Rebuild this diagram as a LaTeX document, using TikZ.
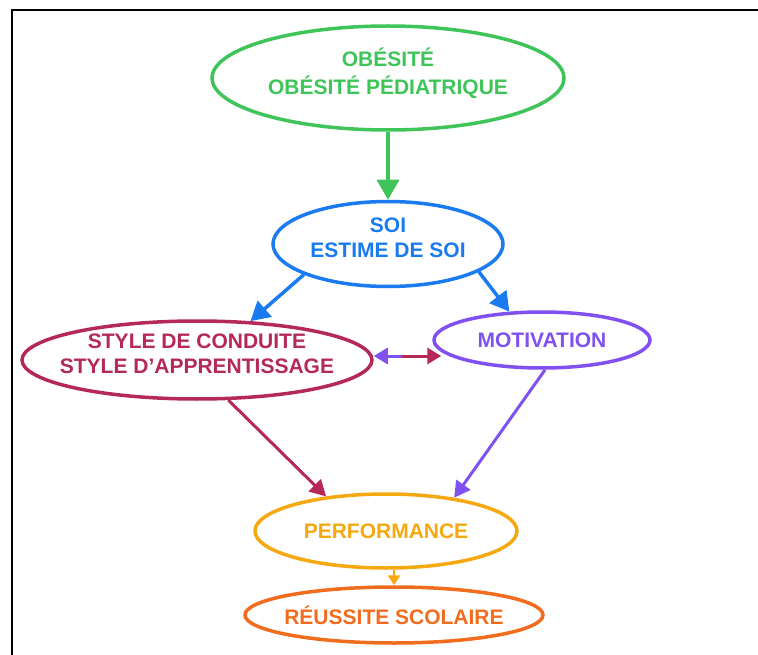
\documentclass[tikz,border=0pt]{standalone}
\usepackage{fontspec}
\setmainfont{Liberation Sans}
\usetikzlibrary{shapes.geometric, arrows.meta}

\definecolor{obgreen}{RGB}{62,196,88}
\definecolor{soiblue}{RGB}{26,122,240}
\definecolor{stylered}{RGB}{180,40,90}
\definecolor{motpurple}{RGB}{128,80,240}
\definecolor{perfyellow}{RGB}{245,168,16}
\definecolor{reuorange}{RGB}{242,108,30}

\begin{document}
\begin{tikzpicture}[x=1pt, y=-1pt,
  bubble/.style={draw, ellipse, line width=3.5pt, inner sep=0pt, align=center,
    font=\bfseries\fontsize{21}{25}\selectfont},
  twoline/.style={text depth=13pt},
  link/.style={line width=3pt, -{Triangle[length=16pt, width=17pt]}}]
\useasboundingbox (0,0) rectangle (758,655);
\draw[line width=2pt] (12,655) -- (12,10.5) -- (758,10.5);

\node[bubble, twoline, obgreen, minimum width=352pt, minimum height=104pt,
  font=\bfseries\fontsize{21}{28}\selectfont] (obesite) at (388,78) {OBÉSITÉ\\OBÉSITÉ PÉDIATRIQUE};
\node[bubble, twoline, soiblue, minimum width=230pt, minimum height=85pt] (soi) at (388,244) {SOI\\ESTIME DE SOI};
\node[bubble, twoline, stylered, minimum width=350pt, minimum height=78pt, inner xsep=-16pt] (style) at (197,360) {STYLE DE CONDUITE\\STYLE D’APPRENTISSAGE};
\node[bubble, motpurple, minimum width=216pt, minimum height=56pt] (motiv) at (542,340) {MOTIVATION};
\node[bubble, perfyellow, minimum width=262pt, minimum height=74pt] (perf) at (386,531) {PERFORMANCE};
\node[bubble, reuorange, minimum width=298pt, minimum height=56pt, inner xsep=-8pt] (reussite) at (394,615) {RÉUSSITE SCOLAIRE};
\coordinate (mid) at (402,356);

\draw[link, obgreen, line width=3.5pt, -{Triangle[length=20pt, width=22pt]}] (obesite) -- (soi);
\draw[link, soiblue, line width=3.5pt, -{Triangle[length=19pt, width=21pt]}] (soi.200) -- (style.36);
\draw[link, soiblue, line width=3.5pt, -{Triangle[length=19pt, width=21pt]}] (soi.343) -- (motiv.139);
\draw[link, motpurple, -{Triangle[length=14pt, width=16pt]}] (mid) -- (style.east |- mid);
\draw[link, stylered, -{Triangle[length=14pt, width=16pt]}, shorten >=-9pt] (mid) -- (motiv.west |- mid);
\draw[link, stylered] (style.308) -- (perf.150);
\draw[link, motpurple] (motiv.276) -- (perf.26);
\draw[link, perfyellow, line width=2.5pt, -{Triangle[length=10pt, width=12pt]}] (reussite.north |- perf.south) -- (reussite.north);
\end{tikzpicture}
\end{document}
